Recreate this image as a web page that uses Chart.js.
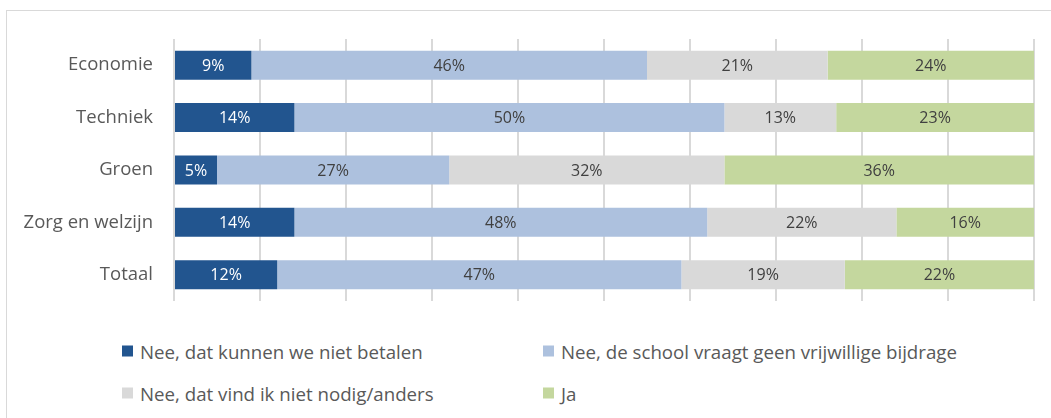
<!DOCTYPE html>
<html>
<head>
<meta charset="utf-8">
<script src="https://cdn.jsdelivr.net/npm/chart.js@4/dist/chart.umd.min.js"></script>
<style>
  html, body { margin: 0; padding: 0; background: #fff; }
  body { width: 1051px; height: 418px; position: relative; overflow: hidden; font-family: "Open Sans", sans-serif; }
  .frame { position: absolute; left: 6px; top: 10px; width: 1100px; height: 500px; border: 1px solid #d9d9d9; box-sizing: border-box; }
  #wrap { position: absolute; left: 0; top: 0; width: 1051px; height: 333px; }
  #legend { position: absolute; left: 0; top: 0; }
  .lg-item { position: absolute; display: flex; align-items: center; font-size: 18.7px; color: #595959; white-space: nowrap; transform: translateY(-50%); }
  .lg-box { width: 11px; height: 11px; margin-right: 7px; }
</style>
</head>
<body>
<div class="frame"></div>
<div id="wrap"><canvas id="chart"></canvas></div>
<div id="legend"></div>
<script>
const categories = ['Economie', 'Techniek', 'Groen', 'Zorg en welzijn', 'Totaal'];
const seriesNames = [
  'Nee, dat kunnen we niet betalen',
  'Nee, de school vraagt geen vrijwillige bijdrage',
  'Nee, dat vind ik niet nodig/anders',
  'Ja'
];
const cannotPay   = [9, 14, 5, 14, 12];
const noRequest   = [46, 50, 27, 48, 47];
const notNeeded   = [21, 13, 32, 22, 19];
const yes         = [24, 23, 36, 16, 22];
const xTicks      = [0, 10, 20, 30, 40, 50, 60, 70, 80, 90, 100];

const colors = ['#22558f', '#adc1de', '#d9d9d9', '#c4d79e'];
const labelColors = ['#ffffff', '#404040', '#404040', '#404040'];
const FONT = '"Open Sans", sans-serif';

// draws the percentage inside each segment
const segLabels = {
  id: 'segLabels',
  afterDatasetsDraw(chart) {
    const ctx = chart.ctx;
    ctx.save();
    ctx.font = '16px ' + FONT;
    ctx.textAlign = 'center';
    ctx.textBaseline = 'middle';
    chart.data.datasets.forEach((ds, i) => {
      const meta = chart.getDatasetMeta(i);
      ctx.fillStyle = labelColors[i];
      meta.data.forEach((bar, j) => {
        const cx = (bar.x + bar.base) / 2;
        ctx.fillText(ds.data[j] + '%', cx, bar.y + 1);
      });
    });
    ctx.restore();
  }
};

const series = [cannotPay, noRequest, notNeeded, yes];

new Chart(document.getElementById('chart'), {
  type: 'bar',
  data: {
    labels: categories,
    datasets: series.map((d, i) => ({
      label: seriesNames[i],
      data: d,
      backgroundColor: colors[i],
      borderWidth: 0,
      barPercentage: 0.555,
      categoryPercentage: 1,
    })),
  },
  options: {
    indexAxis: 'y',
    responsive: true,
    maintainAspectRatio: false,
    animation: false,
    layout: { padding: { top: 39, right: 17, bottom: 10, left: 0 } },
    plugins: { legend: { display: false }, tooltip: { enabled: false } },
    scales: {
      x: {
        stacked: true,
        min: 0,
        max: 100,
        afterBuildTicks: (s) => { s.ticks = xTicks.map(v => ({ value: v })); },
        afterFit: (s) => { s.height = 0; },
        ticks: { display: false },
        grid: { color: '#d9d9d9', lineWidth: 2, drawTicks: false },
        border: { display: false },
      },
      y: {
        stacked: true,
        grid: { display: false, drawTicks: false },
        border: { display: false },
        afterFit: (s) => { s.width = 174; },
        ticks: { color: '#595959', padding: 21, font: { family: FONT, size: 18.5 } },
      },
    },
  },
  plugins: [segLabels],
});

// legend in two columns
const legendPos = [
  { x: 122, y: 351 }, { x: 543, y: 351 },
  { x: 122, y: 393 }, { x: 543, y: 393 },
];
const legend = document.getElementById('legend');
seriesNames.forEach((name, i) => {
  const el = document.createElement('div');
  el.className = 'lg-item';
  el.style.left = legendPos[i].x + 'px';
  el.style.top = legendPos[i].y + 'px';
  el.innerHTML = `<span class="lg-box" style="background:${colors[i]}"></span><span>${name}</span>`;
  legend.appendChild(el);
});
</script>
</body>
</html>
